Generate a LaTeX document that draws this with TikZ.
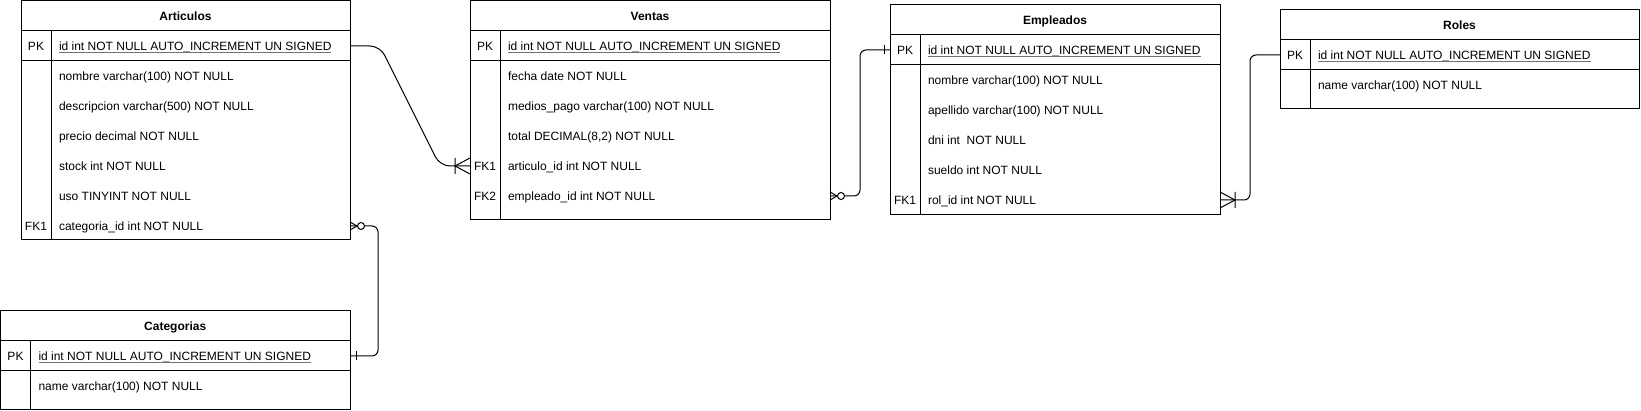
\documentclass[tikz,border=0pt]{standalone}
\usepackage{fontspec}
\setmainfont{Liberation Sans}
\tikzset{x=1pt, y=-1pt,
  every node/.style={font=\fontsize{12}{14}\selectfont, inner sep=0pt, outer sep=0pt, text height=11.5pt, text depth=2.5pt},
  tblbox/.style={draw, rectangle, anchor=north west},
  tbltitle/.style={font=\fontsize{12}{14}\selectfont\bfseries},
  keycell/.style={anchor=center},
  valcell/.style={anchor=west},
  ulcol/.style={draw=black!55},
  relline/.style={draw, rounded corners=6pt}}

% table: name, left, top, width, height, title, rows
\newcommand{\ertable}[7]{%
  \node[tblbox, minimum width=#4pt, minimum height=#5pt] (#1) at (#2,#3) {};
  \node[tbltitle] (#1-t) at ([yshift=-15pt]#1.north) {#6};
  \draw (#2,#3+30) -- ++(#4,0) (#2,#3+60) -- ++(#4,0) (#2+30,#3+30) -- (#2+30,#3+#5);
  \node[keycell] (#1-k0) at (#2+15,#3+45) {PK};
  \node[valcell] (#1-v0) at (#2+38,#3+45) {id int NOT NULL AUTO\_INCREMENT UN SIGNED\ };
  \draw[ulcol] ([yshift=-2pt]#1-v0.base west) -- ([yshift=-2pt]#1-v0.base east);
  \foreach \k/\t [count=\i] in {#7} {
    \node[keycell] (#1-k\i) at (#2+15,#3+45+30*\i) {\k};
    \node[valcell] (#1-v\i) at (#2+38,#3+45+30*\i) {\t};
  } % end of \foreach \k
}
% relation ends: at, direction
\newcommand{\relmanyone}[2]{\draw[shift={#1}, xscale=#2] (0,-8) -- (15,0) -- (0,8) (15,-8) -- (15,8);}
\newcommand{\relzeromany}[2]{\draw[shift={#1}, xscale=#2] (0,-4) -- (7,0) -- (0,4);
  \draw[shift={#1}, xscale=#2, fill=white] (11,0) circle[radius=3.5];}
\newcommand{\relone}[2]{\draw[shift={#1}, xscale=#2] (6,-4.5) -- (6,4.5);}

\begin{document}
\begin{tikzpicture}[line width=1pt]
\useasboundingbox (0,0) rectangle (1641,411);

\ertable{art}{21}{1}{329}{239}{Articulos}{{}/{nombre varchar(100) NOT NULL}, {}/{descripcion varchar(500) NOT NULL},
  {}/{precio decimal NOT NULL}, {}/{stock int NOT NULL}, {}/{uso TINYINT NOT NULL}, FK1/{categoria\_id int NOT NULL}}
\ertable{ven}{470}{1}{360}{219}{Ventas}{{}/{fecha date NOT NULL}, {}/{medios\_pago varchar(100) NOT NULL},
  {}/{total DECIMAL(8,2) NOT NULL}, FK1/{articulo\_id int NOT NULL}, FK2/{empleado\_id int NOT NULL}}
\ertable{emp}{890}{5}{330}{210}{Empleados}{{}/{nombre varchar(100) NOT NULL}, {}/{apellido varchar(100) NOT NULL},
  {}/{dni int\ \ NOT NULL}, {}/{sueldo int NOT NULL}, FK1/{rol\_id int NOT NULL}}
\ertable{rol}{1280}{10}{359}{99}{Roles}{{}/{name varchar(100) NOT NULL}}
\ertable{cat}{0.5}{311}{349.5}{98.5}{Categorias}{{}/{name varchar(100) NOT NULL}}

% relations
\draw[relline, rounded corners=10pt] (art.east |- art-v0) -- ++(30,0) -- ([xshift=-30pt]ven.west |- ven-v4) -- (ven.west |- ven-v4);
\draw[relline] (art.east |- art-v6) -- ++(28,0) |- (cat.east |- cat-v0);
\draw[relline] (ven.east |- ven-v5) -- ++(30,0) |- (emp.west |- emp-v0);
\draw[relline] (emp.east |- emp-v5) -- ++(30,0) |- (rol.west |- rol-v0);

\relmanyone{(ven.west |- ven-v4)}{-1}
\relzeromany{(art.east |- art-v6)}{1}
\relone{(cat.east |- cat-v0)}{1}
\relzeromany{(ven.east |- ven-v5)}{1}
\relone{(emp.west |- emp-v0)}{-1}
\relmanyone{(emp.east |- emp-v5)}{1}
\end{tikzpicture}
\end{document}
